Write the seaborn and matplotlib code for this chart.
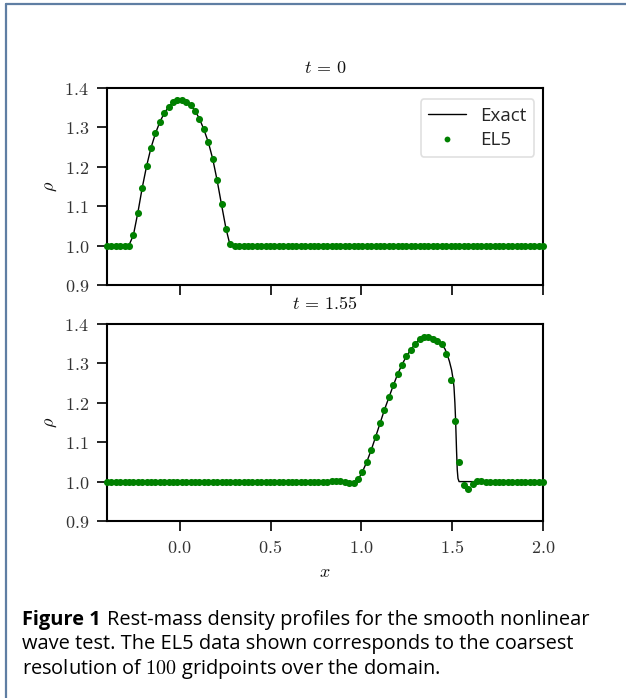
import numpy as np
import pandas as pd
import matplotlib
matplotlib.use("Agg")
import matplotlib.pyplot as plt
from matplotlib.lines import Line2D
from matplotlib.ticker import FuncFormatter, MultipleLocator
import seaborn as sns

# ---------------- data ----------------
n_points = 100
x_min, x_max = -0.4, 2.0

# EL5 values, t = 0 (100 gridpoints)
el5_t0 = [1.0] * 6 + [
    1.026, 1.084, 1.147, 1.202, 1.248, 1.285, 1.314, 1.336, 1.352, 1.364, 1.369,
    1.369, 1.364, 1.356, 1.342, 1.322, 1.295, 1.262, 1.220, 1.166, 1.105, 1.043, 1.005,
] + [1.0] * 71

# EL5 values, t = 1.55 (100 gridpoints)
el5_t155 = [1.0] * 50 + [
    1.000, 1.001, 1.002, 1.001, 0.998, 0.996, 0.997, 1.006, 1.025, 1.050,
    1.081, 1.114, 1.148, 1.182, 1.214, 1.244, 1.273, 1.297, 1.318, 1.335,
    1.350, 1.362, 1.368, 1.368, 1.363, 1.358, 1.348, 1.323, 1.257, 1.155,
    1.050, 0.992, 0.981, 0.993, 1.002, 1.002, 1.000,
] + [1.0] * 13

# Exact solution, t = 0
exact_x_t0 = [-0.4, -0.280, -0.255, -0.230, -0.206, -0.182, -0.158, -0.133, -0.109,
              -0.085, -0.061, -0.036, -0.012, 0.0, 0.012, 0.036, 0.061, 0.085, 0.109,
              0.133, 0.158, 0.182, 0.206, 0.230, 0.255, 0.278, 2.0]
exact_y_t0 = [1.0, 1.0, 1.026, 1.084, 1.147, 1.202, 1.248, 1.285, 1.314,
              1.336, 1.352, 1.364, 1.369, 1.370, 1.369, 1.364, 1.356, 1.342, 1.322,
              1.295, 1.262, 1.220, 1.166, 1.105, 1.043, 1.0, 1.0]

# Exact solution, t = 1.55
exact_x_t155 = [-0.4, 0.970, 0.982, 1.006, 1.030, 1.055, 1.079, 1.103, 1.127, 1.152,
                1.176, 1.200, 1.224, 1.248, 1.273, 1.297, 1.321, 1.345, 1.370, 1.394,
                1.418, 1.442, 1.460, 1.471, 1.485, 1.497, 1.505, 1.510, 1.515, 1.519,
                1.524, 1.528, 1.532, 1.538, 2.0]
exact_y_t155 = [1.0, 1.0, 1.005, 1.025, 1.050, 1.081, 1.114, 1.148, 1.182, 1.214,
                1.244, 1.273, 1.297, 1.318, 1.335, 1.350, 1.362, 1.368, 1.369, 1.366,
                1.360, 1.349, 1.337, 1.325, 1.305, 1.283, 1.260, 1.240, 1.200, 1.155,
                1.080, 1.030, 1.008, 1.0, 1.0]

titles = [r"$t\,=\,0$", r"$t\,=\,1.55$"]
caption_bold = "Figure 1"
caption_line1 = "Rest-mass density profiles for the smooth nonlinear"
caption_line2 = "wave test. The EL5 data shown corresponds to the coarsest"
caption_line3 = "resolution of $100$ gridpoints over the domain."

# ---------------- style ----------------
sns.set_style("ticks")
plt.rcParams["mathtext.fontset"] = "cm"
sans = ["Open Sans", "DejaVu Sans"]
plt.rcParams["font.family"] = sans

W, H = 626, 698
fig = plt.figure(figsize=(W / 100, H / 100), dpi=100)
fig.patch.set_facecolor("white")

left = 107 / W
width = 436 / W
ax_h = 197 / H
ax1 = fig.add_axes([left, 1 - 285 / H, width, ax_h])
ax2 = fig.add_axes([left, 1 - 521 / H, width, ax_h], sharex=ax1)

grid_x = np.linspace(x_min, x_max, n_points)
panels = [
    (ax1, exact_x_t0, exact_y_t0, el5_t0, titles[0]),
    (ax2, exact_x_t155, exact_y_t155, el5_t155, titles[1]),
]

for ax, ex, ey, el, title in panels:
    df_exact = pd.DataFrame({"x": ex, "rho": ey})
    df_el5 = pd.DataFrame({"x": grid_x, "rho": el})
    sns.lineplot(data=df_exact, x="x", y="rho", ax=ax, color="black", lw=1.0,
                 sort=False, zorder=2)
    sns.scatterplot(data=df_el5, x="x", y="rho", ax=ax, color="#008000", s=26,
                    linewidth=0, zorder=3, clip_on=False)
    ax.set_xlim(x_min, x_max)
    ax.set_ylim(0.9, 1.4)
    ax.yaxis.set_major_locator(MultipleLocator(0.1))
    ax.xaxis.set_major_locator(MultipleLocator(0.5))
    ax.yaxis.set_major_formatter(FuncFormatter(lambda v, p: f"${v:.1f}$"))
    ax.xaxis.set_major_formatter(FuncFormatter(lambda v, p: f"${v:.1f}$"))
    ax.set_title(title, fontsize=13, pad=11, color="#111111")
    ax.set_ylabel(r"$\rho$", fontsize=13, labelpad=4, color="#111111")
    ax.set_xlabel("")
    ax.tick_params(direction="out", length=7, width=1.2, labelsize=13,
                   colors="black", labelcolor="#333333", pad=6)
    for sp in ax.spines.values():
        sp.set_linewidth(1.5)
        sp.set_color("black")
        sp.set_visible(True)

ax1.tick_params(labelbottom=False)
ax2.set_xlabel("$x$", fontsize=13, labelpad=4, color="#111111")

handles = [
    Line2D([], [], color="black", lw=1.0),
    Line2D([], [], color="#008000", marker="o", ls="", markersize=4.2, markeredgewidth=0),
]
leg = ax1.legend(handles, ["Exact", "EL5"], loc="upper right", fontsize=13.5,
                 frameon=True, fancybox=True, borderpad=0.4, handlelength=2.0,
                 labelspacing=0.35, handletextpad=0.8, bbox_to_anchor=(1.002, 0.99))
leg.get_frame().set_edgecolor("#d8d8d8")
leg.get_frame().set_linewidth(1.2)

# frame border of the figure box
border_col = "#5f7ea3"
fig.add_artist(Line2D([5.5 / W, 5.5 / W], [0, 1 - 4 / H], transform=fig.transFigure,
                      color=border_col, lw=1.6))
fig.add_artist(Line2D([5.5 / W, 1], [1 - 4 / H, 1 - 4 / H], transform=fig.transFigure,
                      color=border_col, lw=1.6))

# caption
cap_size = 13
cx = 22 / W
renderer = fig.canvas.get_renderer()
t_bold = fig.text(cx, 1 - 620 / H, caption_bold, fontsize=cap_size, fontweight="bold",
                  va="center", ha="left", color="black")
t1 = fig.text(0, 1 - 620 / H, caption_line1, fontsize=cap_size,
              va="center", ha="left", color="black")
t2 = fig.text(cx, 1 - 644.5 / H, caption_line2, fontsize=cap_size, va="center",
              ha="left", color="black")
t3 = fig.text(cx, 1 - 669 / H, caption_line3, fontsize=cap_size, va="center",
              ha="left", color="black")
fig.canvas.draw()
bw = t_bold.get_window_extent(renderer).width
w1 = t1.get_window_extent(renderer).width
scale = (590 - 22) / (bw + w1 + 7)
for t in (t_bold, t1, t2, t3):
    t.set_fontsize(cap_size * scale)
fig.canvas.draw()
bb = t_bold.get_window_extent(renderer)
t1.set_x((bb.x1 + 6) / W)

fig.savefig("out.png", dpi=100, facecolor="white")
